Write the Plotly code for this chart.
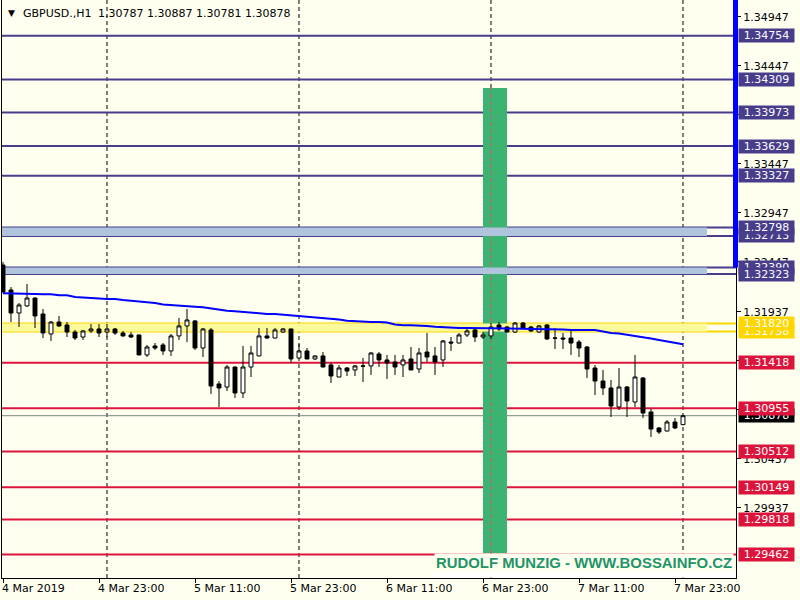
import plotly.graph_objects as go

# ---------------- data ----------------
symbol_text = "GBPUSD.,H1"
ohlc_text = "1.30787 1.30887 1.30781 1.30878"

time_labels = ["4 Mar 2019", "4 Mar 23:00", "5 Mar 11:00", "5 Mar 23:00",
               "6 Mar 11:00", "6 Mar 23:00", "7 Mar 11:00", "7 Mar 23:00"]
label_bars = [0, 12, 24, 36, 48, 60, 72, 84]
midnight_bars = [13, 37, 61, 85]

opens = [
    1.32416, 1.32161, 1.31926, 1.31998, 1.32079, 1.31916, 1.31712, 1.31834, 1.31804, 1.31732,
    1.31681, 1.31743, 1.31763, 1.31732, 1.31763, 1.31722, 1.31702, 1.31702, 1.31498, 1.31590,
    1.31600, 1.31539, 1.31692, 1.31794, 1.31845, 1.31569, 1.31753, 1.31202, 1.31171, 1.31375,
    1.31110, 1.31375, 1.31488, 1.31692, 1.31671, 1.31732, 1.31763, 1.31467, 1.31539, 1.31457,
    1.31488, 1.31396, 1.31273, 1.31365, 1.31345, 1.31386, 1.31386, 1.31508, 1.31447, 1.31426,
    1.31396, 1.31457, 1.31355, 1.31528, 1.31488, 1.31447, 1.31630, 1.31620, 1.31702, 1.31753,
    1.31681, 1.31692, 1.31804, 1.31783, 1.31732, 1.31824, 1.31783, 1.31732, 1.31804, 1.31671,
    1.31671, 1.31671, 1.31630, 1.31579, 1.31365, 1.31232, 1.31161, 1.30967, 1.31171, 1.31018,
    1.31263, 1.30916, 1.30753, 1.30722, 1.30814, 1.30787]
highs = [
    1.32447, 1.32191, 1.32028, 1.32222, 1.32085, 1.31967, 1.31845, 1.31896, 1.31834, 1.31753,
    1.31753, 1.31814, 1.31814, 1.31814, 1.31773, 1.31743, 1.31732, 1.31705, 1.31600, 1.31620,
    1.31620, 1.31712, 1.31875, 1.31967, 1.31855, 1.31773, 1.31773, 1.31232, 1.31396, 1.31380,
    1.31590, 1.31590, 1.31773, 1.31773, 1.31773, 1.31773, 1.31766, 1.31610, 1.31569, 1.31490,
    1.31528, 1.31416, 1.31396, 1.31375, 1.31396, 1.31467, 1.31528, 1.31528, 1.31498, 1.31498,
    1.31498, 1.31579, 1.31569, 1.31722, 1.31579, 1.31651, 1.31681, 1.31722, 1.31773, 1.31773,
    1.31732, 1.31824, 1.31834, 1.31794, 1.31834, 1.31834, 1.31794, 1.31804, 1.31814, 1.31773,
    1.31722, 1.31763, 1.31651, 1.31590, 1.31396, 1.31345, 1.31243, 1.31365, 1.31181, 1.31498,
    1.31273, 1.30947, 1.30763, 1.30834, 1.30855, 1.30887]
lows = [
    1.32130, 1.31834, 1.31783, 1.31988, 1.31773, 1.31671, 1.31641, 1.31783, 1.31681, 1.31651,
    1.31651, 1.31722, 1.31681, 1.31681, 1.31702, 1.31685, 1.31671, 1.31495, 1.31477, 1.31549,
    1.31498, 1.31488, 1.31651, 1.31630, 1.31549, 1.31477, 1.31100, 1.30967, 1.31130, 1.31059,
    1.31059, 1.31273, 1.31485, 1.31661, 1.31665, 1.31722, 1.31416, 1.31464, 1.31454, 1.31447,
    1.31372, 1.31212, 1.31270, 1.31283, 1.31283, 1.31222, 1.31294, 1.31375, 1.31253, 1.31294,
    1.31273, 1.31342, 1.31314, 1.31426, 1.31294, 1.31375, 1.31539, 1.31617, 1.31681, 1.31630,
    1.31661, 1.31661, 1.31743, 1.31730, 1.31722, 1.31763, 1.31732, 1.31722, 1.31651, 1.31559,
    1.31559, 1.31498, 1.31477, 1.31263, 1.31089, 1.31089, 1.30865, 1.30936, 1.30865, 1.30967,
    1.30855, 1.30661, 1.30691, 1.30718, 1.30742, 1.30781]
closes = [
    1.32140, 1.31926, 1.32008, 1.32079, 1.31896, 1.31722, 1.31834, 1.31794, 1.31732, 1.31671,
    1.31743, 1.31763, 1.31722, 1.31763, 1.31722, 1.31692, 1.31681, 1.31498, 1.31579, 1.31569,
    1.31539, 1.31692, 1.31794, 1.31855, 1.31569, 1.31763, 1.31181, 1.31161, 1.31375, 1.31110,
    1.31375, 1.31518, 1.31692, 1.31671, 1.31753, 1.31763, 1.31457, 1.31539, 1.31457, 1.31488,
    1.31375, 1.31283, 1.31365, 1.31334, 1.31386, 1.31384, 1.31518, 1.31447, 1.31416, 1.31375,
    1.31447, 1.31345, 1.31518, 1.31477, 1.31426, 1.31641, 1.31620, 1.31702, 1.31743, 1.31681,
    1.31702, 1.31783, 1.31763, 1.31732, 1.31824, 1.31773, 1.31743, 1.31794, 1.31661, 1.31669,
    1.31661, 1.31620, 1.31569, 1.31355, 1.31232, 1.31161, 1.30977, 1.31171, 1.31028, 1.31273,
    1.30906, 1.30742, 1.30712, 1.30814, 1.30753, 1.30878]
ma_values = [
    1.32127, 1.32127, 1.32127, 1.32127, 1.32120, 1.32117, 1.32117, 1.32107, 1.32107, 1.32089,
    1.32082, 1.32082, 1.32074, 1.32069, 1.32069, 1.32059, 1.32052, 1.32042, 1.32032, 1.32028,
    1.32013, 1.32008, 1.32008, 1.31998, 1.31991, 1.31985, 1.31972, 1.31962, 1.31950, 1.31945,
    1.31936, 1.31929, 1.31921, 1.31916, 1.31916, 1.31909, 1.31903, 1.31901, 1.31888, 1.31882,
    1.31875, 1.31870, 1.31860, 1.31848, 1.31842, 1.31834, 1.31834, 1.31834, 1.31829, 1.31809,
    1.31801, 1.31801, 1.31801, 1.31794, 1.31786, 1.31780, 1.31773, 1.31773, 1.31773, 1.31773,
    1.31773, 1.31773, 1.31773, 1.31773, 1.31773, 1.31766, 1.31763, 1.31763, 1.31763, 1.31763,
    1.31758, 1.31753, 1.31753, 1.31753, 1.31753, 1.31737, 1.31722, 1.31717, 1.31705, 1.31696,
    1.31681, 1.31666, 1.31651, 1.31635, 1.31623, 1.31607]

navy_levels = [1.34754, 1.34309, 1.33973, 1.33629, 1.33327]
blue_band_upper = [1.32798, 1.32713]
blue_band_lower = [1.32390, 1.32323]
gold_band = [1.31820, 1.31738]
red_levels = [1.31418, 1.30955, 1.30512, 1.30149, 1.29818, 1.29462]
current_price = 1.30878
green_zone = {"bar_start": 60, "bar_end": 63, "low": 1.29477, "high": 1.34222}
band_end_bar = 88
axis_marker_low = 1.32390

y_ticks = [1.34947, 1.34447, 1.33947, 1.33447, 1.32947, 1.32447,
           1.31937, 1.31437, 1.30937, 1.30437, 1.29937]

watermark = "RUDOLF MUNZIG - WWW.BOSSAINFO.CZ"

# ---------------- styling / layout ----------------
W, H = 800, 600
PL, PR, PT, PB = 2, 736, 0, 578          # plot area in pixels
Y_TOP, Y_BOT = 1.35120, 1.29222
X_MIN, X_MAX = -0.125, 91.625

BG = "#FFFFF0"
NAVY = "#483D8B"
STEEL = "#B0C4DE"
GOLD = "#FFD700"
PALEGOLD = "#FAFA9C"
RED = "#DC143C"
GREEN = "#3CB371"
FONT = "DejaVu Sans"


def px_x(px):
    return (px - PL) / (PR - PL)


def px_y(py):
    return (PB - py) / (PB - PT)


def price_paper(p):
    return (p - Y_BOT) / (Y_TOP - Y_BOT)


n = len(opens)
bars = list(range(n))

fig = go.Figure()

shapes = []
# vertical dashed grid
for m in midnight_bars:
    shapes.append(dict(type="line", xref="x", yref="paper", x0=m, x1=m, y0=0, y1=1,
                       line=dict(color="black", width=1, dash="4px,3px"), layer="below"))
# green zone
shapes.append(dict(type="rect", xref="x", yref="y",
                   x0=green_zone["bar_start"], x1=green_zone["bar_end"],
                   y0=green_zone["low"], y1=green_zone["high"],
                   fillcolor=GREEN, line=dict(width=0), layer="below"))
for m in midnight_bars:
    if green_zone["bar_start"] < m < green_zone["bar_end"]:
        shapes.append(dict(type="line", xref="x", yref="y", x0=m, x1=m,
                           y0=green_zone["low"], y1=green_zone["high"],
                           line=dict(color="#D8507A", width=1, dash="4px,3px"), layer="below"))
# band fills
for lo_hi, col in [(blue_band_upper, STEEL), (blue_band_lower, STEEL), (gold_band, PALEGOLD)]:
    shapes.append(dict(type="rect", xref="x", yref="y", x0=X_MIN, x1=band_end_bar,
                       y0=min(lo_hi), y1=max(lo_hi), fillcolor=col, line=dict(width=0),
                       layer="below"))


def hline(level, color, width=2):
    shapes.append(dict(type="line", xref="paper", yref="y", x0=0, x1=1, y0=level, y1=level,
                       line=dict(color=color, width=width), layer="below"))


for lv in navy_levels + blue_band_upper + blue_band_lower:
    hline(lv, NAVY)
for lv in red_levels:
    hline(lv, RED)
hline(current_price, "#808080", 1)
for lv in gold_band:
    hline(lv, GOLD)
# blue marker on price axis
shapes.append(dict(type="rect", xref="paper", yref="paper", x0=px_x(733), x1=px_x(738),
                   y0=price_paper(axis_marker_low), y1=1.0, fillcolor="#0000FF",
                   line=dict(width=0), layer="above"))

fig.add_trace(go.Candlestick(
    x=bars, open=opens, high=highs, low=lows, close=closes,
    increasing=dict(line=dict(color="black", width=1), fillcolor="white"),
    decreasing=dict(line=dict(color="black", width=1), fillcolor="black"),
    whiskerwidth=0, showlegend=False, hoverinfo="skip"))

fig.add_trace(go.Scatter(x=bars, y=ma_values, mode="lines",
                         line=dict(color="#0000FF", width=2), showlegend=False,
                         hoverinfo="skip"))

annotations = []
# watermark label box (opaque, hides the grid line behind it)
annotations.append(dict(text=" ", xref="paper", yref="paper",
                        x=px_x(434), y=px_y(578), xanchor="left", yanchor="bottom",
                        showarrow=False, width=300, height=9, borderpad=0,
                        bgcolor="white", font=dict(size=6)))
annotations.append(dict(text=f"<b>{watermark}</b>", xref="paper", yref="paper",
                        x=px_x(434), y=px_y(563), xanchor="left", yanchor="middle",
                        showarrow=False, bgcolor=BG, borderpad=1,
                        font=dict(family="Liberation Sans", size=14.9, color="#1E9468")))

# title
annotations.append(dict(text="▼", xref="paper", yref="paper", x=px_x(6), y=px_y(13),
                        xanchor="left", yanchor="middle", showarrow=False,
                        font=dict(family=FONT, size=9, color="black")))
annotations.append(dict(text=symbol_text, xref="paper", yref="paper", x=px_x(21), y=px_y(13),
                        xanchor="left", yanchor="middle", showarrow=False,
                        font=dict(family=FONT, size=11, color="black")))
annotations.append(dict(text=ohlc_text, xref="paper", yref="paper", x=px_x(96), y=px_y(13),
                        xanchor="left", yanchor="middle", showarrow=False,
                        font=dict(family=FONT, size=11, color="black")))

# time labels
for b, t in zip(label_bars, time_labels):
    annotations.append(dict(text=t, xref="x", yref="paper", x=b, y=px_y(580),
                            xanchor="left", yanchor="top", xshift=-3, showarrow=False,
                            font=dict(family=FONT, size=11, color="black")))

# price labels (later ones drawn on top)
label_order = [(lv, NAVY) for lv in navy_levels] + \
    [(blue_band_upper[1], NAVY), (blue_band_upper[0], NAVY),
     (blue_band_lower[0], NAVY), (blue_band_lower[1], NAVY),
     (gold_band[1], GOLD), (gold_band[0], GOLD),
     (red_levels[0], RED), (current_price, "black"), (red_levels[1], RED)] + \
    [(lv, RED) for lv in red_levels[2:]]
for lv, col in label_order:
    annotations.append(dict(text=f"{lv:.5f}", xref="paper", yref="y", x=px_x(738), y=lv,
                            xanchor="left", yanchor="middle", showarrow=False,
                            bgcolor=col, borderpad=0, width=55, align="center",
                            font=dict(family=FONT, size=11, color="white")))

fig.update_layout(
    width=W, height=H,
    margin=dict(l=PL, r=W - PR, t=PT, b=H - PB, pad=0),
    paper_bgcolor=BG, plot_bgcolor=BG,
    shapes=shapes, annotations=annotations,
    showlegend=False,
    xaxis=dict(range=[X_MIN, X_MAX], showgrid=False, zeroline=False,
               showline=True, linecolor="black", linewidth=1,
               tickvals=label_bars, ticks="outside", ticklen=4, tickcolor="black",
               showticklabels=False, rangeslider=dict(visible=False), fixedrange=True),
    yaxis=dict(range=[Y_BOT, Y_TOP], side="right", showgrid=False, zeroline=False,
               showline=True, mirror=True, linecolor="black", linewidth=1,
               tickvals=y_ticks, ticktext=[f"{v:.5f}" for v in y_ticks],
               ticks="outside", ticklen=4, tickcolor="black",
               tickfont=dict(family=FONT, size=11, color="black"), fixedrange=True),
)

fig.write_html("out.html", config={"displayModeBar": False},
               post_script="document.body.style.margin='0';document.body.style.overflow='hidden';")
